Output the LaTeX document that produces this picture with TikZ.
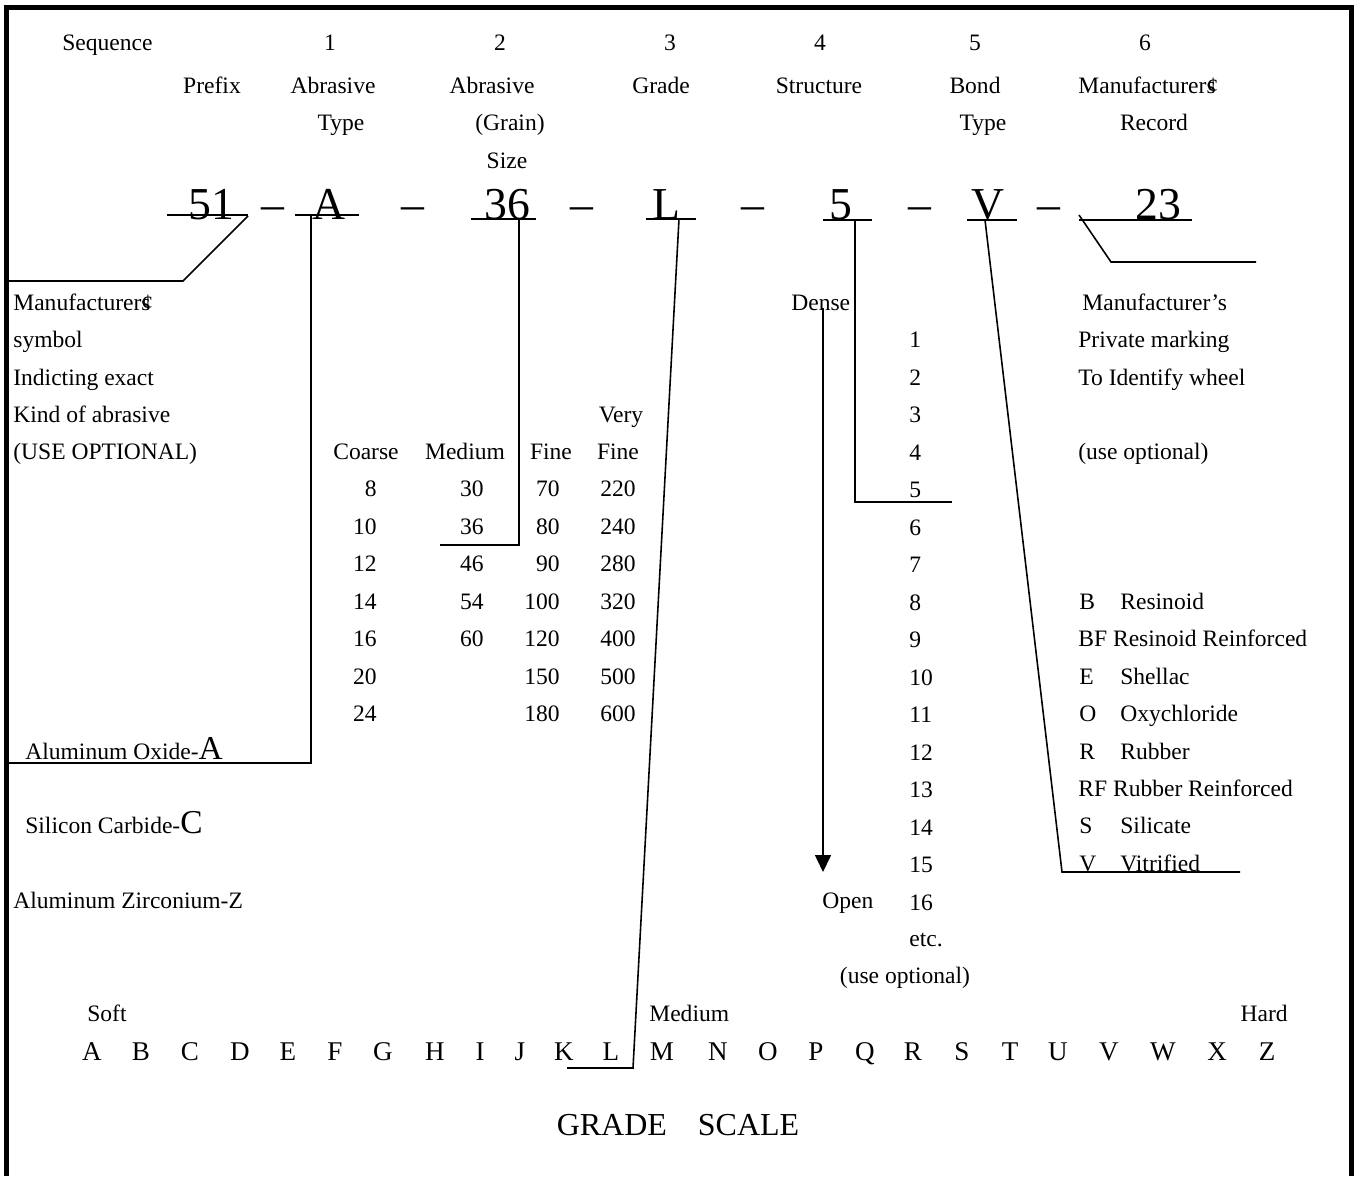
\documentclass[tikz,border=0pt]{standalone}
\usepackage{fontspec}
\setmainfont{Liberation Serif}
\usetikzlibrary{arrows.meta}

\tikzset{
  txt/.style={inner sep=0pt, anchor=base, font=\fontsize{13.4}{16}\selectfont},
  txtg/.style={txt, anchor=base west},
  txtd/.style={txt, anchor=base east},
  code/.style={inner sep=0pt, anchor=base, font=\fontsize{26}{30}\selectfont},
  lettre/.style={inner sep=0pt, anchor=base, font=\fontsize{15.4}{18}\selectfont},
  trait/.style={line width=0.9pt},
  cadre/.style={line width=2.8pt}
}
\newcommand{\grosse}[1]{{\fontsize{19}{20}\selectfont #1}}
\newcommand{\cents}{\makebox[0pt][l]{¢}s}

\begin{document}
\begin{tikzpicture}[x=0.02cm, y=-0.02cm]
\useasboundingbox (0,0) rectangle (1358,1176);
% Cadre (ouvert en bas)
\draw[cadre] (6.5,1176) -- (6.5,7.5) -- (1351.5,7.5) -- (1351.5,1176);

% En-tete
\node[txtg] (seq) at (62,51) {Sequence};
\foreach \n/\x in {1/330,2/500,3/670,4/820,5/975,6/1145}
  \node[txt] (num\n) at (\x,51) {\n};
\node[txt] (prefix) at (212,93) {Prefix};
\node[txt] (abr1) at (333,93) {Abrasive};
\node[txt] (abr2) at (492,93) {Abrasive};
\node[txt] (grade) at (661,93) {Grade};
\node[txt] (struct) at (819,93) {Structure};
\node[txt] (bond) at (975,93) {Bond};
\node[txt] (manuf) at (1147,93) {Manufacturer\cents};
\node[txt] (type1) at (341,131) {Type};
\node[txt] (grain) at (510,131) {(Grain)};
\node[txt] (type2) at (983,131) {Type};
\node[txt] (record) at (1154,131) {Record};
\node[txt] (size) at (507,168) {Size};

% Code de la meule
\node[code] (c51) at (211,219) {51};
\node[code] (cA) at (329,219) {A};
\node[code] (c36) at (507,219) {36};
\node[code] (cL) at (666,219) {L};
\node[code] (c5) at (841,219) {5};
\node[code] (cV) at (988,219) {V};
\node[code] (c23) at (1158,219) {23};
\foreach \x in {273,413,582,753,920,1049}
  \node[code] at (\x,219) {--};
\draw[trait] (167,215) -- (248,215);
\draw[trait] (295,215) -- (359,215);
\draw[trait] (471,219) -- (536,219);
\draw[trait] (646,219) -- (696,219);
\draw[trait] (823,220) -- (872,220);
\draw[trait] (967,220) -- (1017,220);
\draw[trait] (1079,220) -- (1192,220);

% Renvois
\coordinate (p1) at (248,216);
\coordinate (p2) at (183,281);
\coordinate (p3) at (9,281);
\draw[trait] (p1) -- (p2) -- (p3);
\coordinate (a1) at (311,215);
\coordinate (a2) at (311,763);
\coordinate (a3) at (9,763);
\draw[trait] (a1) -- (a2) -- (a3);
\coordinate (g1) at (519,219);
\coordinate (g2) at (519,545);
\coordinate (g3) at (440,545);
\draw[trait] (g1) -- (g2) -- (g3);
\coordinate (l1) at (679,219);
\coordinate (l2) at (633,1068);
\coordinate (l3) at (567,1068);
\draw[trait] (l1) -- (l2) -- (l3);
\coordinate (s1) at (855,220);
\coordinate (s2) at (855,502);
\coordinate (s3) at (952,502);
\draw[trait] (s1) -- (s2) -- (s3);
\coordinate (b1) at (985,220);
\coordinate (b2) at (1062,872);
\coordinate (b3) at (1240,872);
\draw[trait] (b1) -- (b2) -- (b3);
\coordinate (m1) at (1079,215);
\coordinate (m2) at (1111,262);
\coordinate (m3) at (1256,262);
\draw[trait] (m1) -- (m2) -- (m3);

% Prefixe
\node[txtg] at (13,310) {Manufacturer\cents};
\node[txtg] at (13,347) {symbol};
\node[txtg] at (13,385) {Indicting exact};
\node[txtg] at (13,422) {Kind of abrasive};
\node[txtg] at (13,459) {(USE OPTIONAL)};
\node[txtg] (alox) at (25,759) {Aluminum Oxide-\grosse{A}};
\node[txtg] (sic) at (25,833) {Silicon Carbide-\grosse{C}};
\node[txtg] (alzr) at (13,908) {Aluminum Zirconium-Z};

% Grains
\node[txt] at (621,422) {Very};
\node[txt] at (366,459) {Coarse};
\node[txt] at (465,459) {Medium};
\node[txt] at (551,459) {Fine};
\node[txt] at (618,459) {Fine};
\foreach \v [count=\i] in {8,10,12,14,16,20,24}
  \node[txtd] at (377,459+37.5*\i) {\v};
\foreach \v [count=\i] in {30,36,46,54,60}
  \node[txtd] at (484,459+37.5*\i) {\v};
\foreach \v [count=\i] in {70,80,90,100,120,150,180}
  \node[txtd] at (560,459+37.5*\i) {\v};
\foreach \v [count=\i] in {220,240,280,320,400,500,600}
  \node[txtd] at (636,459+37.5*\i) {\v};

% Structure
\node[txtg] (dense) at (791,310) {Dense};
\foreach \i in {1,...,16}
  \node[txtg] at (909,310+37.5*\i) {\i};
\node[txtg] at (909,946) {etc.};
\node[txt] at (905,983) {(use optional)};
\node[txtg] (open) at (822,908) {Open};
\coordinate (d1) at (823,308);
\coordinate (d2) at (823,872);
\draw[trait, -{Triangle[length=0.34cm, width=0.32cm]}] (d1) -- (d2);

% Liants et marquage
\node[txtg] at (1082,310) {Manufacturer’s};
\node[txtg] at (1078,347) {Private marking};
\node[txtg] at (1078,385) {To Identify wheel};
\node[txtg] at (1078,459) {(use optional)};
\foreach \l/\nom/\y in {B/Resinoid/609, E/Shellac/684, O/Oxychloride/721,
    R/Rubber/759, S/Silicate/833, V/Vitrified/871}
  {\node[txtg] at (1079,\y) {\l};
   \node[txtg] at (1120,\y) {\nom};}
\node[txtg] at (1078,646) {BF Resinoid Reinforced};
\node[txtg] at (1078,796) {RF Rubber Reinforced};

% Echelle des grades
\node[txtg] (soft) at (87,1021) {Soft};
\node[txtg] (medium) at (649,1021) {Medium};
\node[txtd] (hard) at (1288,1021) {Hard};
\foreach \l/\x in {A/92,B/141,C/190,D/240,E/288,F/335,G/383,H/435,I/480,J/520,
    K/564,L/611,M/662,N/718,O/768,P/816,Q/865,R/913,S/962,T/1010,U/1058,
    V/1109,W/1163,X/1217,Z/1267}
  \node[lettre] (g\l) at (\x,1060) {\l};
\node[inner sep=0pt, anchor=base, font=\fontsize{18.2}{20}\selectfont] (titre)
  at (678,1135) {GRADE\hspace{0.62cm}SCALE};
\end{tikzpicture}
\end{document}
